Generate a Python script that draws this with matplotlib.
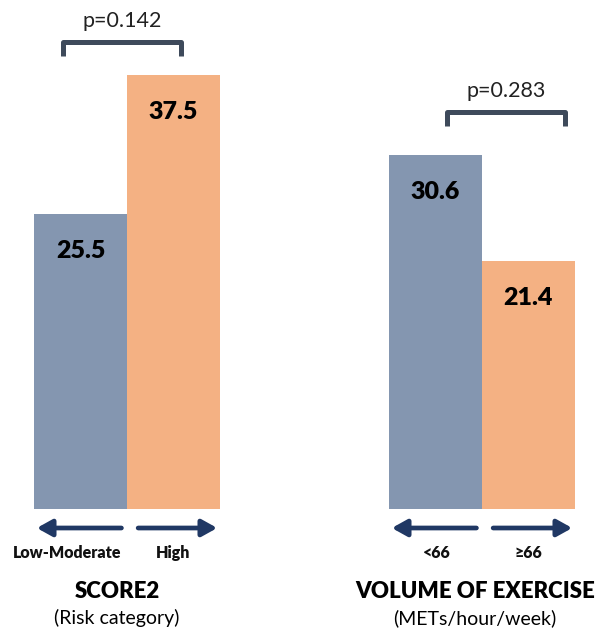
import matplotlib
matplotlib.use("Agg")
import matplotlib.pyplot as plt
from matplotlib.path import Path
from matplotlib.patches import PathPatch

plt.rcParams['font.family'] = ['Lato', 'DejaVu Sans']

# data
groups = ["SCORE2", "VOLUME OF EXERCISE"]
subtitles = ["(Risk category)", "(METs/hour/week)"]
categories = [["Low-Moderate", "High"], ["<66", "\u226566"]]
values = [[25.5, 37.5], [30.6, 21.4]]
p_values = ["p=0.142", "p=0.283"]

blue = "#8496B0"
orange = "#F4B183"
navy = "#203864"
bracket_col = "#3E4A5B"

# figure in pixel-like units: x in bar widths, y in value units
W, H = 596, 628
px_x = 93.0          # px per bar width
px_y = 11.57         # px per value unit
base_px = 509        # baseline pixel row

fig = plt.figure(figsize=(W / 100, H / 100), dpi=100)
ax = fig.add_axes([0, 0, 1, 1])
ax.set_xlim(0, W / px_x)
ax.set_ylim(-(H - base_px) / px_y, base_px / px_y)
ax.axis("off")

def X(px):
    return px / px_x

def Y(px):
    return (base_px - px) / px_y

group_left = [34, 389]                 # left edge of first bar (px)
bracket_x = [(63, 181), (447, 565)]     # bracket extents (px)
bracket_top = [42, 112]

for g in range(2):
    x0 = X(group_left[g])
    xs = [x0 + 0.5, x0 + 1.5]
    ax.bar(xs, values[g], width=1.0, color=[blue, orange], linewidth=0)
    for x, v in zip(xs, values[g]):
        ax.text(x, v - 3.2, f"{v:.1f}", ha="center", va="center",
                fontsize=18, fontweight="heavy", color="black")

    # bracket with p-value
    bx0, bx1 = X(bracket_x[g][0]), X(bracket_x[g][1])
    yt = Y(bracket_top[g])
    yb = Y(bracket_top[g] + 14)
    path = Path([(bx0, yb), (bx0, yt), (bx1, yt), (bx1, yb)],
                [Path.MOVETO, Path.LINETO, Path.LINETO, Path.LINETO])
    ax.add_patch(PathPatch(path, fill=False, lw=3.6, edgecolor=bracket_col,
                           joinstyle="round", capstyle="butt"))
    ax.text((bx0 + bx1) / 2, yt + 1.85, p_values[g], ha="center",
            va="center", fontsize=15.5, color="#222222")

    # arrows under the bars
    ya = Y(528)
    ax.annotate("", xy=(x0 + 0.03, ya), xytext=(x0 + 0.94, ya),
                arrowprops=dict(arrowstyle="-|>,head_length=0.9,head_width=0.5",
                                color=navy, lw=3.4, shrinkA=0, shrinkB=0))
    ax.annotate("", xy=(x0 + 1.97, ya), xytext=(x0 + 1.12, ya),
                arrowprops=dict(arrowstyle="-|>,head_length=0.9,head_width=0.5",
                                color=navy, lw=3.4, shrinkA=0, shrinkB=0))

    # category labels
    cat_x = [X(67), X(173)] if g == 0 else [X(437), X(528)]
    for x, c in zip(cat_x, categories[g]):
        ax.text(x, Y(553), c, ha="center", va="center", fontsize=11.5,
                fontweight="heavy", color="#111111")

    gx = X(117) if g == 0 else X(475)
    ax.text(gx, Y(592), groups[g], ha="center", va="center", fontsize=16,
            fontweight="heavy", color="black")
    ax.text(gx, Y(618), subtitles[g], ha="center", va="center", fontsize=14,
            color="black")

fig.savefig("out.png", dpi=100)
